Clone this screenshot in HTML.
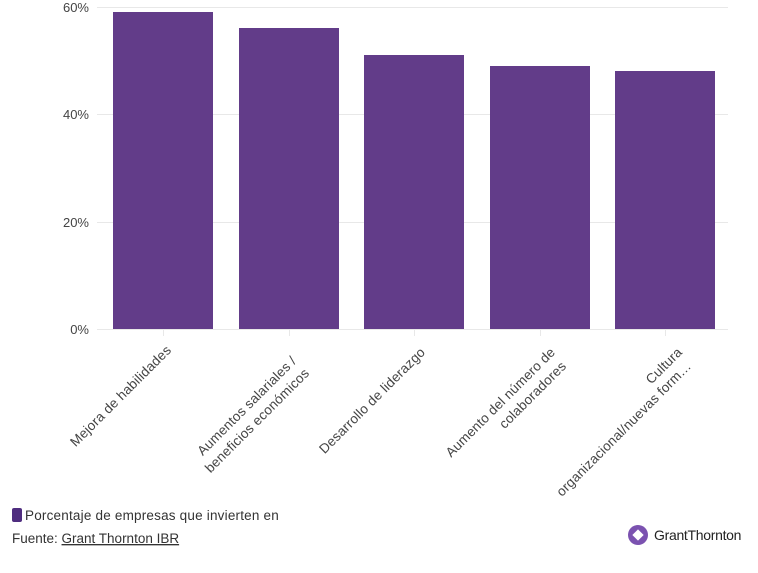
<!DOCTYPE html>
<html><head><meta charset="utf-8"><style>
html,body{margin:0;padding:0;background:#fff;width:758px;height:573px;overflow:hidden;font-family:"Liberation Sans",sans-serif;}
</style></head><body>
<svg width="758" height="573" xmlns="http://www.w3.org/2000/svg" style="position:absolute;left:0;top:0">
<g stroke="#e8e8e8" stroke-width="1">
<line x1="97" y1="7.5" x2="728" y2="7.5"/>
<line x1="97" y1="114.5" x2="728" y2="114.5"/>
<line x1="97" y1="222.5" x2="728" y2="222.5"/>
<line x1="97" y1="329.5" x2="728" y2="329.5"/>
<line x1="163.5" y1="330" x2="163.5" y2="336"/>
<line x1="289.5" y1="330" x2="289.5" y2="336"/>
<line x1="414.5" y1="330" x2="414.5" y2="336"/>
<line x1="540.5" y1="330" x2="540.5" y2="336"/>
<line x1="665.5" y1="330" x2="665.5" y2="336"/>
</g>
<g font-size="13" fill="#444" text-anchor="end">
<text x="89" y="12">60%</text>
<text x="89" y="119">40%</text>
<text x="89" y="227">20%</text>
<text x="89" y="334">0%</text>
</g>
<g fill="#623c89">
<rect x="113" y="12" width="100" height="317"/>
<rect x="239" y="28" width="100" height="301"/>
<rect x="364" y="55" width="100" height="274"/>
<rect x="490" y="66" width="100" height="263"/>
<rect x="615" y="71" width="100" height="258"/>
</g>
<g font-size="13.5" fill="#444" text-anchor="end" letter-spacing="0.2">
<text transform="translate(172,351) rotate(-45)">Mejora de habilidades</text>
<text transform="translate(297,362) rotate(-45)">Aumentos salariales /</text>
<text transform="translate(310,374) rotate(-45)">beneficios económicos</text>
<text transform="translate(426,353) rotate(-45)">Desarrollo de liderazgo</text>
<text transform="translate(556,353) rotate(-45)">Aumento del número de</text>
<text transform="translate(567,367) rotate(-45)">colaboradores</text>
<text transform="translate(683,353) rotate(-45)">Cultura</text>
<text transform="translate(692,367) rotate(-45)">organizacional/nuevas form…</text>
</g>
<rect x="12" y="508" width="10" height="14" rx="2" fill="#4f2d7f"/>
<text x="25" y="520" font-size="13.5" fill="#333" letter-spacing="0.2">Porcentaje de empresas que invierten en</text>
<text x="12" y="543" font-size="13.5" fill="#333">Fuente: <tspan text-decoration="underline">Grant Thornton IBR</tspan></text>
<circle cx="638" cy="535" r="10" fill="#7b52b0"/>
<rect x="634" y="531" width="8" height="8" transform="rotate(45 638 535)" fill="#fff"/>
<text x="654" y="540" font-size="14" fill="#222" letter-spacing="-0.3">GrantThornton</text>
</svg>
</body></html>
